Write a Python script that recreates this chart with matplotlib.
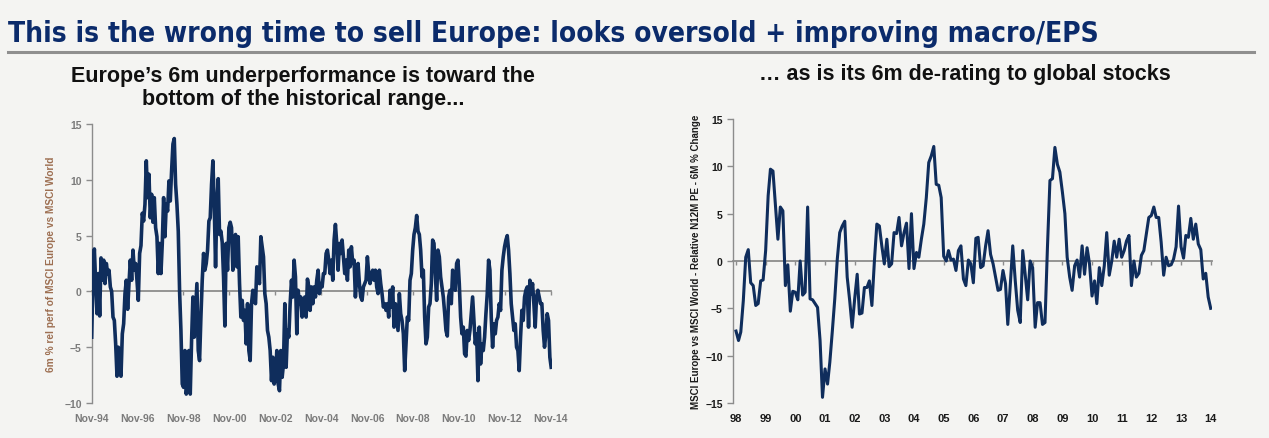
import numpy as np
import pandas as pd
import matplotlib
matplotlib.use("Agg")
import matplotlib.pyplot as plt
from matplotlib.lines import Line2D
from matplotlib import font_manager

W, H = 1269, 439
BG = "#f4f4f2"
NAVY = "#0f2d5c"
GRAY = "#8c8c8c"

# ---------------- data ----------------
title = "This is the wrong time to sell Europe: looks oversold + improving macro/EPS"
left_subtitle = "Europe\u2019s 6m underperformance is toward the\nbottom of the historical range..."
right_subtitle = "\u2026 as is its 6m de-rating to global stocks"
left_ylabel = "6m % rel perf of MSCI Europe vs MSCI World"
right_ylabel = "MSCI Europe vs MSCI World - Relative N12M PE - 6M % Change"

left_start, left_end = "1994-11-04", "2014-11-07"
left_values = [
    -4.1, 1.6, 3.8, 0.7, -2.0, 1.6, -2.2, 3.0, 1.0, 2.8,
    0.7, 2.5, 1.6, 1.9, 0.4, 0.0, -2.3, -2.6, -4.7, -7.6,
    -5.0, -6.5, -7.6, -3.8, -2.9, -0.2, 1.0, -1.6, 0.7, 2.8,
    1.0, 3.7, 1.9, 2.5, 1.0, -0.8, 3.4, 4.1, 7.0, 6.3,
    7.8, 11.7, 8.4, 10.5, 6.6, 8.7, 6.2, 8.4, 5.7, 4.9,
    1.6, 4.3, 1.6, 4.3, 8.4, 4.9, 7.8, 7.2, 9.9, 8.1,
    10.8, 13.2, 13.7, 9.6, 7.8, 5.4, 0.0, -3.5, -8.3, -8.6,
    -5.3, -9.2, -8.0, -5.3, -9.2, -4.4, -0.5, -4.1, -1.7, 0.7,
    -5.3, -6.2, -2.3, 1.0, 3.4, 1.9, 2.5,
    3.7, 6.3, 6.6, 9.6, 11.7, 7.8, 2.2, 7.8, 10.1, 5.1,
    5.4, 4.4, 1.3, -3.1, 4.3, 1.9, 5.7, 6.2, 5.7, 1.9,
    3.7, 5.1, 2.2, 4.9, 0.7, -2.3, -0.8, -2.6, -1.7, -4.7,
    -1.1, -5.3, -6.2, -1.1, 0.1, -0.8, -1.1, 2.2, 1.3, 0.7,
    4.9, 4.0, 3.1, -0.2, -1.1, -3.5, -4.1, -5.3, -8.0, -5.9,
    -8.3, -7.7, -5.3, -8.3, -8.9, -5.3, -7.7, -6.5, -1.1, -6.8,
    -3.5, -4.1, -1.1, 1.0, -0.5, 2.8, 1.3, -3.8, 0.1, -1.1,
    -0.5, -2.3, -1.1, -0.5, -2.3, 1.1, 0.4, -1.7, 0.4, -1.1,
    0.4, -0.5, 1.0, 1.9, -0.2, 0.7, 0.4, 1.6,
    1.6, 3.4, 3.7, 2.8, 1.6, 2.8, 1.0, 4.6, 6.0, 4.3,
    1.9, 4.3, 3.4, 4.6, 3.1, 1.6, 2.8, 1.0, 3.7, 2.2,
    4.0, 2.5, 2.8, -0.5, 1.3, 2.5, 0.7, -0.5, -0.8, 0.4,
    0.7, 1.0, 3.1, 1.6, 0.7, 1.6, 1.9, 1.0, 1.9, 0.4,
    -0.2, 1.9, 0.7, -0.2, -1.4, -1.1, -1.7, -1.1, -2.3, 0.1,
    -1.4, 0.4, -3.2, -1.1, -2.3, -3.5, -0.2, -2.0, -2.6, -3.8,
    -7.1, -4.7, -2.3, -2.6, 1.0, 1.6, 3.7, 5.1, 5.7, 6.8,
    5.4, 5.1, 3.7, 1.3, 1.9, -2.3, -4.7, -4.1, -1.4, -1.1,
    0.7, 4.6, 4.3, 1.6, -0.8, 3.7, 3.1,
    1.3, 0.4, -0.5, -1.9, -3.5, -4.0, -0.5, 0.1, -1.1, 1.9,
    1.3, 0.1, 2.5, 2.8, 0.7, -2.3, -3.8, -3.2, -5.6, -5.8,
    -3.5, -4.4, -3.5, -2.0, -0.5, -2.6, -4.7, -3.8, -8.0, -3.2,
    -6.5, -4.7, -5.3, -4.1, -2.0, -0.2, 2.8, 1.9, -2.3, -5.0,
    -2.9, -3.8, -2.6, -2.3, -1.1, -1.7, 1.9, 3.1, 4.0, 4.6,
    5.0, 3.7, 1.6, -1.1, -2.3, -3.5, -2.9, -5.0, -5.3, -7.1,
    -4.1, -1.7, -2.6, -0.5, 0.1, 0.4, -3.2, 1.0, -0.2, 0.7,
    -1.1, -3.2, -0.5, 0.1, -0.5, -1.1, -1.1, -3.5, -5.0, -3.8,
    -2.0, -2.6, -5.9, -6.8,
]
left_tick_labels = ["Nov-94", "Nov-96", "Nov-98", "Nov-00", "Nov-02", "Nov-04",
                    "Nov-06", "Nov-08", "Nov-10", "Nov-12", "Nov-14"]
left_yticks = [-10, -5, 0, 5, 10, 15]

right_start = "1998-01-01"
right_values = [
    -7.4, -8.4, -7.5, -4.2, 0.4, 1.2, -2.3, -2.6, -4.7, -4.5,
    -2.1, -2.0, 1.1, 6.9, 9.7, 9.5, 6.0, 2.3, 5.7, 5.3,
    -2.6, -0.4, -5.3, -3.2, -3.3, -4.1, 0.0, -3.6, -3.3, 5.7,
    -4.0, -4.1, -4.5, -4.9, -8.4, -14.4, -11.4, -13.0, -10.7, -7.4,
    -4.0, 0.2, 3.0, 3.7, 4.2, -1.7, -4.2, -7.0, -4.0, -1.4,
    -5.6, -5.5, -2.8, -2.8, -2.1, -4.7, 0.0, 3.9,
    3.7, 1.6, -0.3, 2.3, -0.6, -0.3, 3.0, 2.9, 4.6, 1.6,
    3.0, 4.0, -0.8, 5.0, -0.8, 0.9, 0.4, 2.3, 3.9, 6.7,
    10.4, 11.1, 12.1, 8.1, 8.0, 6.7, 0.5, 0.0, 1.1, 0.1,
    0.2, -1.0, 1.1, 1.6, -1.9, -2.6, 0.1, -0.3, -2.3, 2.4,
    2.5, -0.7, -0.5, 1.6, 3.2, 0.7, -0.3, -1.7, -3.1, -3.0,
    -1.0, -2.4, -6.7, -2.4, 1.6, -2.1, -5.2,
    -6.5, 1.1, -1.4, -4.1, 0.0, -0.7, -7.0, -4.4, -4.4, -6.7,
    -6.5, 1.4, 8.5, 8.7, 12.0, 10.2, 9.4, 7.3, 5.0, 0.4,
    -1.7, -3.1, -0.5, 0.1, -1.7, 1.6, -1.4, 1.4, -0.3, -3.7,
    -2.1, -4.5, -0.7, -2.6, -0.5, 3.0, -1.5, 0.0, 2.1, 0.4,
    2.3, 0.4, 1.1, 2.1, 2.7, -2.6, 0.0, -1.7, -1.3, 0.6,
    1.1, 2.9, 4.6, 4.8, 5.7, 4.6, 4.6, 2.0, -1.5,
    0.4, -0.5, -0.4, 0.2, 1.5, 5.8, 1.5, 0.3, 2.7, 2.5,
    4.5, 2.3, 3.9, 1.8, 1.2, -1.9, -1.3, -3.8, -5.0,
]
right_tick_labels = ["98", "99", "00", "01", "02", "03", "04", "05", "06",
                     "07", "08", "09", "10", "11", "12", "13", "14"]
right_yticks = [-15, -10, -5, 0, 5, 10, 15]

# ---------------- fonts ----------------
fl = font_manager.fontManager.ttflist
avail = {f.name for f in fl}
SANS = "Liberation Sans" if "Liberation Sans" in avail else "DejaVu Sans"
title_kw = dict(family=[SANS, "DejaVu Sans"])
if "Liberation Sans Narrow" in avail:
    title_kw = dict(family=["Liberation Sans Narrow", "DejaVu Sans"])
elif any(f.name == "DejaVu Sans" and f.stretch == "condensed" for f in fl):
    title_kw = dict(family=["DejaVu Sans"], stretch="condensed")
plt.rcParams["font.family"] = [SANS, "DejaVu Sans"]

fig = plt.figure(figsize=(W / 100, H / 100), dpi=100, facecolor=BG)


def px_axes(x0, y0, x1, y1):
    return fig.add_axes([x0 / W, 1 - y1 / H, (x1 - x0) / W, (y1 - y0) / H])


def style_axes(ax, label_color):
    ax.set_facecolor(BG)
    for s in ("top", "right"):
        ax.spines[s].set_visible(False)
    ax.spines["left"].set_color(GRAY)
    ax.spines["left"].set_linewidth(1.0)
    ax.spines["bottom"].set_position(("data", 0))
    ax.spines["bottom"].set_color(GRAY)
    ax.spines["bottom"].set_linewidth(1.3)
    ax.spines["bottom"].set_zorder(1)
    ax.tick_params(axis="y", direction="out", length=4, width=1, color=GRAY,
                   labelsize=7.5, labelcolor=label_color, pad=3)
    ax.tick_params(axis="x", direction="out", length=3, width=1, color=GRAY,
                   labelbottom=False)
    for lab in ax.get_yticklabels():
        lab.set_fontweight("bold")


# ---------------- left chart ----------------
axL = px_axes(91.5, 125, 551.5, 404)
dL = pd.date_range(left_start, left_end, periods=len(left_values))
axL.plot(dL, left_values, color=NAVY, lw=2.6, zorder=3)
axL.set_xlim(pd.Timestamp("1994-11-01"), pd.Timestamp("2014-11-12"))
axL.set_ylim(-10, 15)
axL.set_yticks(left_yticks)
lt_dates = pd.to_datetime(left_tick_labels, format="%b-%y")
axL.set_xticks(lt_dates)
style_axes(axL, "#7b7b7b")
secL = axL.secondary_xaxis("bottom")
secL.set_xticks(lt_dates, labels=left_tick_labels)
secL.spines["bottom"].set_visible(False)
secL.tick_params(length=0, pad=7, labelsize=7.5, labelcolor="#7b7b7b")
for lab in secL.get_xticklabels():
    lab.set_fontweight("bold")
axL.set_ylabel(left_ylabel, fontsize=7.3, color="#9d6f52", fontweight="bold", labelpad=6)

# ---------------- right chart ----------------
axR = px_axes(732.5, 120, 1212, 404)
dR = pd.date_range(right_start, periods=len(right_values), freq="MS")
axR.plot(dR, right_values, color=NAVY, lw=2.2, zorder=3)
axR.set_xlim(pd.Timestamp("1997-11-19"), pd.Timestamp("2014-01-17"))
axR.set_ylim(-15, 15)
axR.set_yticks(right_yticks)
rt_dates = pd.to_datetime(["19" + t if int(t) > 50 else "20" + t for t in right_tick_labels],
                          format="%Y")
axR.set_xticks(rt_dates)
style_axes(axR, "#1a1a1a")
secR = axR.secondary_xaxis("bottom")
secR.set_xticks(rt_dates, labels=right_tick_labels)
secR.spines["bottom"].set_visible(False)
secR.tick_params(length=0, pad=7, labelsize=8, labelcolor="#1a1a1a")
for lab in secR.get_xticklabels():
    lab.set_fontweight("bold")
axR.set_ylabel(right_ylabel, fontsize=7, color="#1a1a1a", fontweight="bold", labelpad=3)

# ---------------- titles ----------------
t = fig.text(8 / W, 1 - 34 / H, title, fontsize=20, fontweight="bold",
             color="#0b2b6b", ha="left", va="center", **title_kw)
fig.add_artist(Line2D([8 / W, 1254 / W], [1 - 53 / H] * 2, color="#8f8f8f", lw=2.2))
fig.text(303 / W, 1 - 88 / H, left_subtitle, fontsize=15.5, fontweight="bold",
         color="#111111", ha="center", va="center", linespacing=1.12)
fig.text(965 / W, 1 - 75 / H, right_subtitle, fontsize=15.5, fontweight="bold",
         color="#111111", ha="center", va="center")

fig.canvas.draw()
bb = t.get_window_extent()
t.set_fontsize(t.get_fontsize() * (1092 / bb.width))

fig.savefig("out.png", dpi=100, facecolor=BG)
